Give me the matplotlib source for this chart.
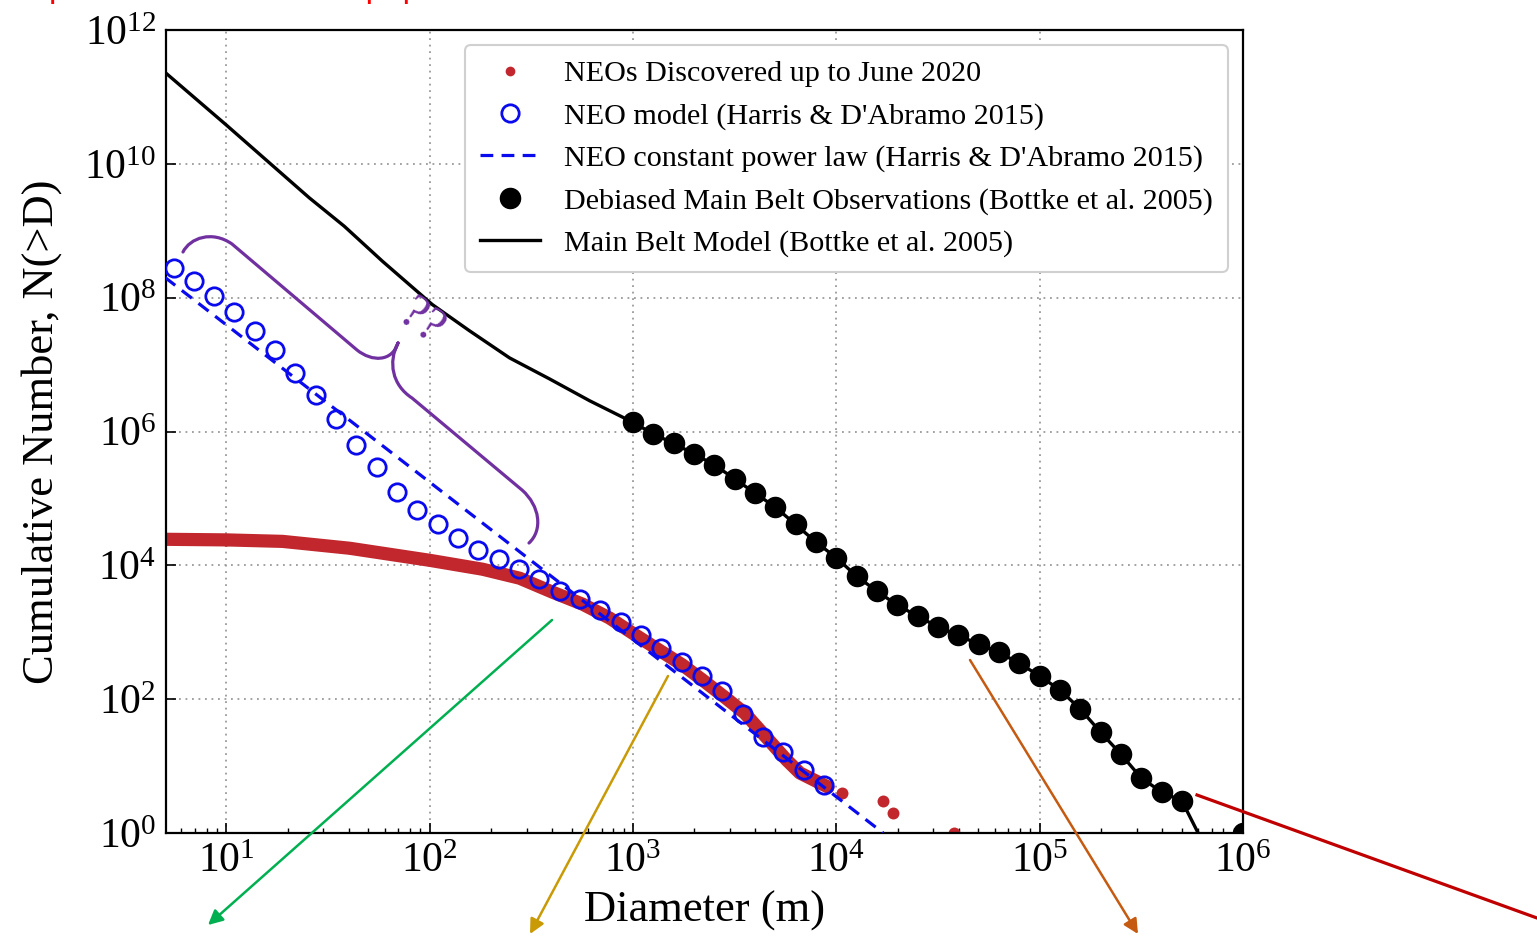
import matplotlib
matplotlib.use("Agg")
import matplotlib.pyplot as plt
from matplotlib.path import Path
from matplotlib.patches import PathPatch
from matplotlib.ticker import LogLocator, NullLocator, NullFormatter

plt.rcParams.update({
    "font.family": "Liberation Serif",
    "mathtext.fontset": "custom",
    "mathtext.rm": "Liberation Serif",
    "mathtext.it": "Liberation Serif:italic",
    "mathtext.bf": "Liberation Serif:bold",
})

# NEOs discovered up to June 2020: cumulative number N(>D), D in metres
neo_found_d = [5.0, 10.0, 18.9, 40.4, 99.8, 182, 277, 402, 565, 767, 995,
               1400, 1755, 2200, 2825, 3540, 4340, 5700, 6610, 9060,
               10700, 16900, 18900, 37800]
neo_found_n = [24500, 24000, 22800, 18000, 11900, 8750, 6420, 3970, 2630, 1630, 970,
               500, 323, 193, 107, 62, 31, 12.3, 7.9, 4.9,
               4, 3, 2, 1]
n_band = 20  # the dense part of the discovered population

# NEO model (Harris & D'Abramo 2015)
neo_model_d = [5.50, 6.92, 8.71, 10.96, 13.80, 17.38, 21.88, 27.54, 34.67, 43.65,
               54.95, 69.18, 87.10, 109.6, 138.0, 173.8, 218.8, 275.4, 346.7, 436.5,
               549.5, 691.8, 871.0, 1096, 1380, 1738, 2188, 2754, 3467, 4365,
               5495, 6918, 8710]
neo_model_n = [2.75e8, 1.78e8, 1.06e8, 6.1e7, 3.16e7, 1.66e7, 7.6e6, 3.55e6, 1.55e6, 6.3e5,
               2.9e5, 1.26e5, 6.8e4, 4.1e4, 2.6e4, 1.7e4, 1.26e4, 8700, 6200, 4200,
               3100, 2140, 1410, 910, 575, 355, 219, 132, 60, 27,
               16, 8.7, 5.2]

# NEO constant power law
power_law_d = [5.0, 17000.0]
power_law_n = [2.0e8, 1.0]

# Main belt model (Bottke et al. 2005), small sizes
mb_model_d = [5.07, 10.0, 25.6, 38.0, 58.6, 103, 157, 247, 389, 612]
mb_model_n = [2.24e11, 3.8e10, 3.1e9, 1.17e9, 3.5e8, 7.9e7, 3.2e7, 1.26e7, 6.1e6, 2.88e6]
mb_tail_d = [631000]
mb_tail_n = [0.75]

# Debiased main belt observations (Bottke et al. 2005)
mb_obs_d = [1000, 1259, 1585, 1995, 2512, 3162, 3981, 5012, 6310, 7943,
            10000, 12589, 15849, 19953, 25119, 31623, 39811, 50119, 63096, 79433,
            100000, 125893, 158489, 199526, 251189, 316228, 398107, 501187, 1000000]
mb_obs_n = [1.37e6, 9.18e5, 6.65e5, 4.62e5, 3.17e5, 1.96e5, 1.20e5, 7.4e4, 4.08e4, 2.22e4,
            1.30e4, 6860, 4100, 2540, 1740, 1200, 906, 658, 500, 343,
            222, 137, 71, 32, 15, 6.6, 4.1, 3.0, 1.0]

RED = "#c1272d"
BLUE = "#0a0aee"

fig = plt.figure(figsize=(15.37, 9.36), dpi=100)
ax = fig.add_axes([166 / 1537, 1 - 833 / 936, 1077 / 1537, 803 / 936])

# discovered NEOs: a dense band of dots plus a few large objects
ax.plot(neo_found_d[:n_band], neo_found_n[:n_band], "-", color=RED, lw=9.5,
        solid_capstyle="round", solid_joinstyle="round", zorder=2)
ax.plot(neo_found_d, neo_found_n, "o", color=RED, ms=8.6, mew=0, zorder=2)
ax.plot([], [], "o", color=RED, ms=7, mew=0, label="NEOs Discovered up to June 2020")

ax.plot(neo_model_d, neo_model_n, "o", mfc="none", mec=BLUE, ms=12.5, mew=2.0,
        ls="none", zorder=3, label="NEO model (Harris & D'Abramo 2015)")
ax.plot(power_law_d, power_law_n, color=BLUE, lw=2.3, dashes=(4.0, 2.6), zorder=3,
        label="NEO constant power law (Harris & D'Abramo 2015)")

mb_line_d = mb_model_d + mb_obs_d[:-1] + mb_tail_d
mb_line_n = mb_model_n + mb_obs_n[:-1] + mb_tail_n
ax.plot(mb_obs_d, mb_obs_n, "o", color="black", ms=14.5, ls="none", zorder=4,
        label="Debiased Main Belt Observations (Bottke et al. 2005)")
ax.plot(mb_line_d, mb_line_n, "-", color="black", lw=2.4, zorder=4,
        label="Main Belt Model (Bottke et al. 2005)")

ax.set_xscale("log")
ax.set_yscale("log")
ax.set_xlim(5.05, 1.0e6)
ax.set_ylim(1.0, 1.0e12)
ax.set_yticks([1e0, 1e2, 1e4, 1e6, 1e8, 1e10, 1e12])
ax.yaxis.set_minor_locator(NullLocator())
ax.xaxis.set_minor_locator(LogLocator(base=10, subs=range(2, 10)))
ax.xaxis.set_minor_formatter(NullFormatter())
ax.tick_params(which="major", direction="in", length=7, width=1.2, labelsize=30, pad=7)
ax.tick_params(which="minor", direction="in", length=3.5, width=1.0)
for sp in ax.spines.values():
    sp.set_linewidth(1.6)
ax.grid(True, which="major", color="#9a9a9a", lw=1.3, ls=(0, (1, 2.6)))
ax.set_axisbelow(True)

ax.set_xlabel("Diameter (m)", fontsize=32)
ax.set_ylabel("Cumulative Number, N(>D)", fontsize=32)
ax.xaxis.set_label_coords(0.5, -0.072)
ax.yaxis.set_label_coords(-0.097, 0.5)

leg = ax.legend(loc="upper right", fontsize=21.7, labelspacing=0.5, handlelength=2.0,
                borderpad=0.5, fancybox=True, framealpha=1.0)
leg.get_frame().set_edgecolor("#d0d0d0")
leg.get_frame().set_linewidth(1.5)

# overlay in pixel units for the hand-drawn annotations
ov = fig.add_axes([0, 0, 1, 1])
ov.set_xlim(0, 1537)
ov.set_ylim(936, 0)
ov.axis("off")
ov.patch.set_alpha(0)

brace_verts = [(183, 252), (190, 238), (212, 230), (232, 244), (357, 350),
               (372, 362), (392, 362), (398, 343),
               (398, 343), (388, 362), (392, 385), (412, 398), (522, 490),
               (540, 506), (543, 530), (529, 543)]
brace_codes = [Path.MOVETO, Path.CURVE4, Path.CURVE4, Path.CURVE4, Path.LINETO,
               Path.CURVE4, Path.CURVE4, Path.CURVE4,
               Path.MOVETO, Path.CURVE4, Path.CURVE4, Path.CURVE4, Path.LINETO,
               Path.CURVE4, Path.CURVE4, Path.CURVE4]
ov.add_patch(PathPatch(Path(brace_verts, brace_codes), fc="none", ec="#7030a0", lw=2.3,
                       capstyle="round", joinstyle="round"))
ov.text(421, 322, "??", rotation=-37, color="#7030a0", fontsize=36,
        ha="center", va="center")

for start, end, col in [((552, 620), (208, 925), "#00b050"),
                        ((668, 676), (530, 934), "#c99a06"),
                        ((970, 660), (1138, 934), "#c55a11")]:
    ov.annotate("", xy=end, xytext=start,
                arrowprops=dict(arrowstyle="-|>", color=col, lw=1.8,
                                mutation_scale=22, shrinkA=0, shrinkB=0))
ov.plot([1197, 1537], [795, 918], color="#c00000", lw=2.3)

fig.text(10 / 1537, 1 + 3 / 936, "Expected undiscovered population of small NEOs",
         color="red", fontsize=24, family="Liberation Sans", va="baseline")

fig.savefig("out.png", dpi=100)
